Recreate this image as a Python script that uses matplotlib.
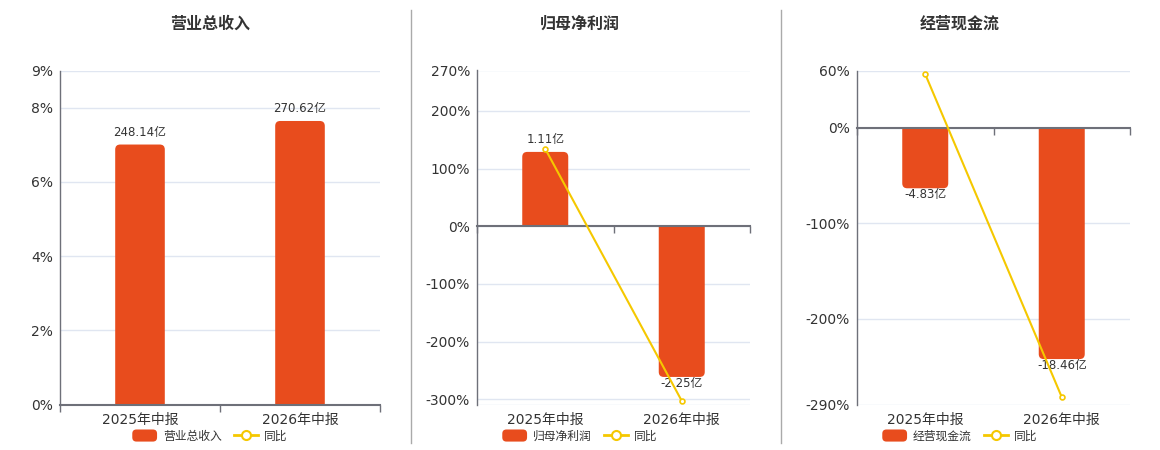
import numpy as np
import matplotlib
matplotlib.use("Agg")
import matplotlib.pyplot as plt
from matplotlib.patches import FancyBboxPatch, Rectangle, PathPatch
from matplotlib.path import Path
from matplotlib.lines import Line2D
from matplotlib.legend_handler import HandlerPatch

plt.rcParams['font.family'] = ['DejaVu Sans', 'Noto Sans CJK SC']

# data
categories = ["2025年中报", "2026年中报"]
titles = ["营业总收入", "归母净利润", "经营现金流"]
revenue = [248.14, 270.62]        # 亿
net_profit = [1.11, -2.25]        # 亿
cash_flow = [-4.83, -18.46]       # 亿
revenue_yoy = [np.nan, np.nan]    # no line drawn in the first chart
profit_yoy = [134.1, -302.7]      # %
cash_yoy = [56.1, -282.2]         # %

rev_ticks = [0, 2, 4, 6, 8, 9]
profit_ticks = [-309, -300, -200, -100, 0, 100, 200, 270]
cash_ticks = [-290, -200, -100, 0, 60]

BAR = '#E84C1D'
LINE = '#F5C800'
TXT = '#333333'
AXC = '#6E7079'
GRID = '#E0E6F1'

W, H = 1160, 450
fig = plt.figure(figsize=(W / 100, H / 100), dpi=100)


class RoundHandler(HandlerPatch):
    def create_artists(self, legend, orig, xd, yd, w, h, fontsize, trans):
        p = FancyBboxPatch((-xd, -yd), w, h, boxstyle="round,pad=0,rounding_size=3",
                           fc=orig.get_facecolor(), ec='none', transform=trans)
        return [p]


def round_bars(ax, bars, color, r_px=5):
    # replace plain bars by bars with rounded corners at the far end
    inv = ax.transData.inverted()
    (x0, y0), (x1, y1) = inv.transform([(0, 0), (1, 1)])
    rx, ry = r_px * (x1 - x0), r_px * (y1 - y0)
    for b in bars:
        xl, w = b.get_x(), b.get_width()
        base, h = b.get_y(), b.get_height()
        b.set_visible(False)
        xr = xl + w
        end = base + h
        s = 1 if h >= 0 else -1
        verts = [(xl, base), (xl, end - s * ry), (xl, end), (xl + rx, end),
                 (xr - rx, end), (xr, end), (xr, end - s * ry), (xr, base), (xl, base)]
        codes = [Path.MOVETO, Path.LINETO, Path.CURVE3, Path.CURVE3,
                 Path.LINETO, Path.CURVE3, Path.CURVE3, Path.LINETO, Path.CLOSEPOLY]
        ax.add_patch(PathPatch(Path(verts, codes), fc=color, ec='none'))


def panel(left, right, cx, title, vals, yoy, ticks, k, bw):
    ax = fig.add_axes([left / W, 1 - 404.5 / H, (right - left) / W, 334 / H])
    lo, hi = ticks[0], ticks[-1]
    xs = np.arange(len(categories))

    # percent axis (left)
    ax.set_xlim(-0.5, len(categories) - 0.5)
    ax.set_ylim(lo, hi)
    labels = ['' if (t == lo and lo not in (0, -290)) else f"{t}%" for t in ticks]
    ax.set_yticks(ticks, labels)
    ax.set_xticks(xs, categories)
    ax.tick_params(axis='y', length=0, pad=5, labelsize=10, labelcolor=TXT)
    ax.tick_params(axis='x', length=0, pad=6, labelsize=10, labelcolor=TXT)
    ax.grid(axis='y', color=GRID, lw=1)
    ax.set_axisbelow(True)
    for s in ['top', 'right', 'bottom']:
        ax.spines[s].set_visible(False)
    ax.spines['left'].set_color(AXC)
    ax.spines['left'].set_linewidth(1)

    # bars on hidden axis
    axb = ax.twinx()
    axb.set_ylim(lo / k, hi / k)
    axb.set_xlim(ax.get_xlim())
    axb.axis('off')
    bars = axb.bar(xs, vals, width=bw, color=BAR)
    round_bars(axb, bars, BAR)
    for x, v in zip(xs, vals):
        if v >= 0:
            axb.annotate(f"{v:.2f}亿", (x, v), xytext=(0, 4), textcoords='offset points',
                         ha='center', va='bottom', fontsize=8.5, color=TXT)
        else:
            axb.annotate(f"{v:.2f}亿", (x, v), xytext=(0, 0), textcoords='offset points',
                         ha='center', va='top', fontsize=8.5, color=TXT)

    # yoy line on top
    axl = ax.twinx()
    axl.set_ylim(lo, hi)
    axl.set_xlim(ax.get_xlim())
    axl.set_yticks([])
    for s in axl.spines.values():
        s.set_visible(False)
    axl.plot(xs, yoy, color=LINE, lw=1.5, marker='o', ms=3.5, mfc='white', mec=LINE, mew=1.2)

    # zero axis line with boundary ticks
    frac = (0 - lo) / (hi - lo)
    sec = axl.secondary_xaxis(frac)
    sec.set_alignment('bottom')
    sec.set_xticks(np.arange(len(categories) + 1) - 0.5, [''] * (len(categories) + 1))
    sec.tick_params(length=5, width=1, color=AXC, direction='out')
    sec.spines['bottom'].set_color(AXC)
    sec.spines['bottom'].set_linewidth(1.5)
    sec.spines['top'].set_visible(False)

    fig.text(cx / W, 1 - 24 / H, title, ha='center', va='center', fontsize=11.5,
             fontweight='bold', color=TXT)
    handles = [Rectangle((0, 0), 1, 1, fc=BAR),
               Line2D([], [], color=LINE, lw=2, marker='o', ms=6.5, mfc='white', mec=LINE, mew=1.5)]
    fig.legend(handles, [title, "同比"], loc='center', bbox_to_anchor=(cx / W, 1 - 436 / H),
               ncol=2, frameon=False, fontsize=8.5, handlelength=2.1, handleheight=1.2,
               columnspacing=1.0, handletextpad=0.5, labelcolor=TXT,
               handler_map={Rectangle: RoundHandler()})


panel(60, 380, 210, titles[0], revenue, revenue_yoy, rev_ticks, 9 / 318.8, 0.31)
panel(477, 750, 580, titles[1], net_profit, profit_yoy, profit_ticks, 116.1, 0.337)
panel(857, 1130, 960, titles[2], cash_flow, cash_yoy, cash_ticks, 13.13, 0.337)

# separators
for xs_ in (410.5, 780.5):
    fig.add_artist(Line2D([xs_ / W] * 2, [1 - 10 / H, 1 - 443 / H], transform=fig.transFigure,
                          color='#AAAAAA', lw=1))

fig.savefig("out.png", dpi=100)
